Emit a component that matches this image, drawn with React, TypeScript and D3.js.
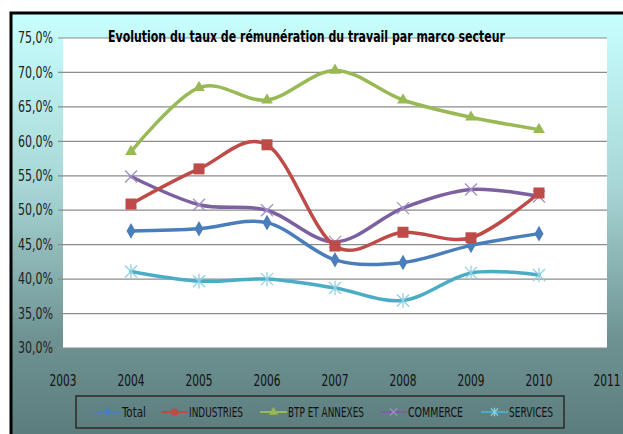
import React, { useEffect, useRef } from 'react';
import * as d3 from 'd3';

const years = [2004, 2005, 2006, 2007, 2008, 2009, 2010];
const xTicks = [2003, 2004, 2005, 2006, 2007, 2008, 2009, 2010, 2011];
const yTicks = [0.30, 0.35, 0.40, 0.45, 0.50, 0.55, 0.60, 0.65, 0.70, 0.75];

const total = [0.470, 0.473, 0.482, 0.428, 0.424, 0.449, 0.466];
const industries = [0.509, 0.560, 0.595, 0.448, 0.468, 0.460, 0.525];
const btp = [0.585, 0.678, 0.660, 0.703, 0.660, 0.635, 0.617];
const commerce = [0.549, 0.508, 0.500, 0.454, 0.503, 0.530, 0.520];
const services = [0.411, 0.397, 0.400, 0.387, 0.369, 0.409, 0.406];

const seriesNames = ['Total', 'INDUSTRIES', 'BTP ET ANNEXES', 'COMMERCE', 'SERVICES'];
const seriesColors = ['#4a7ebb', '#be4b48', '#98b954', '#7d60a0', '#4bacc6'];
const markerColors = ['#4a7ebb', '#be4b48', '#98b954', '#a090c8', '#8fd0e0'];
const markers = ['diamond', 'square', 'triangle', 'x', 'star'];

const title = 'Evolution du taux de rémunération du travail par marco secteur';
const narrow = '"Liberation Sans Narrow", "DejaVu Sans Condensed", "Arial Narrow", sans-serif';

export default function App() {
    const ref = useRef<SVGSVGElement | null>(null);

    useEffect(() => {
        const svg = d3.select(ref.current);
        svg.selectAll('*').remove();
        const width = 623, height = 434;
        const plot = { left: 63, right: 607, top: 38, bottom: 348 };
        const x = d3.scaleLinear().domain([2003, 2011]).range([plot.left, plot.right]);
        const y = d3.scaleLinear().domain([0.30, 0.75]).range([plot.bottom, plot.top]);
        const fmt = (v: number) => d3.format('.1%')(v).replace('.', ',');

        svg.attr('viewBox', `0 0 ${width} ${height}`);

        const defs = svg.append('defs');
        const grad = defs.append('linearGradient').attr('id', 'bg').attr('x1', 0).attr('y1', 0).attr('x2', 0).attr('y2', 1);
        grad.append('stop').attr('offset', '0%').attr('stop-color', '#c8ffff');
        grad.append('stop').attr('offset', '40%').attr('stop-color', '#a8d6d6');
        grad.append('stop').attr('offset', '75%').attr('stop-color', '#6e9292');
        grad.append('stop').attr('offset', '100%').attr('stop-color', '#5a7a7a');

        // frame
        svg.append('rect').attr('x', 0).attr('y', 0).attr('width', width).attr('height', height).attr('fill', '#fff');
        svg.append('rect').attr('x', 11).attr('y', 13).attr('width', width).attr('height', height)
            .attr('fill', 'url(#bg)').attr('stroke', '#000').attr('stroke-width', 3);

        // plot area
        svg.append('rect').attr('x', plot.left).attr('y', plot.top)
            .attr('width', plot.right - plot.left).attr('height', plot.bottom - plot.top).attr('fill', '#fff');

        const grid = svg.append('g');
        grid.selectAll('line').data(yTicks).join('line')
            .attr('x1', plot.left - 5).attr('x2', plot.right)
            .attr('y1', d => y(d)).attr('y2', d => y(d))
            .attr('stroke', '#8c8c8c').attr('stroke-width', 1.2);

        svg.append('g').selectAll('text').data(yTicks).join('text')
            .attr('x', 53).attr('y', d => y(d)).attr('dy', '0.35em')
            .attr('text-anchor', 'end').attr('font-family', narrow).attr('font-size', 15)
            .attr('textLength', 35).attr('lengthAdjust', 'spacingAndGlyphs')
            .attr('fill', '#222').text(d => fmt(d));

        svg.append('g').selectAll('text').data(xTicks).join('text')
            .attr('x', d => x(d)).attr('y', 386)
            .attr('text-anchor', 'middle').attr('font-family', narrow).attr('font-size', 15)
            .attr('textLength', 27).attr('lengthAdjust', 'spacingAndGlyphs')
            .attr('fill', '#111').text(d => String(d));

        svg.append('text').attr('x', 108).attr('y', 42)
            .attr('font-family', narrow).attr('font-size', 16).attr('font-weight', 'bold')
            .attr('textLength', 397).attr('lengthAdjust', 'spacingAndGlyphs')
            .attr('fill', '#000').text(title);

        const line = d3.line<number>()
            .x((d, i) => x(years[i]))
            .y(d => y(d))
            .curve(d3.curveCardinal.tension(0));

        const symbol = (kind: string, g: any, color: string, scale = 1) => {
            if (kind === 'diamond') {
                g.append('path').attr('d', d3.symbol(d3.symbolDiamond, 70 * scale)()).attr('fill', color);
            } else if (kind === 'square') {
                g.append('rect').attr('x', -5.5 * scale).attr('y', -5.5 * scale)
                    .attr('width', 11 * scale).attr('height', 11 * scale).attr('fill', color);
            } else if (kind === 'triangle') {
                g.append('path').attr('d', d3.symbol(d3.symbolTriangle, 60 * scale)()).attr('fill', color);
            } else if (kind === 'x') {
                const r = 6 * scale;
                g.append('path').attr('d', `M${-r},${-r}L${r},${r}M${-r},${r}L${r},${-r}`)
                    .attr('stroke', color).attr('stroke-width', 1.3);
            } else {
                const r = 6 * scale;
                g.append('path').attr('d', `M${-r},${-r}L${r},${r}M${-r},${r}L${r},${-r}M0,${-r * 1.2}L0,${r * 1.2}`)
                    .attr('stroke', color).attr('stroke-width', 1.3);
            }
        };

        const all = [total, industries, btp, commerce, services];
        // draw in order so later series sit on top like the original
        const order = [4, 0, 3, 1, 2];
        order.forEach(si => {
            const vals = all[si];
            svg.append('path').datum(vals)
                .attr('fill', 'none').attr('stroke', seriesColors[si]).attr('stroke-width', 3.5)
                .attr('stroke-linecap', 'round').attr('d', line as any);
            vals.forEach((v, i) => {
                const g = svg.append('g').attr('transform', `translate(${x(years[i])},${y(v)})`);
                symbol(markers[si], g, markerColors[si]);
            });
        });

        // legend
        svg.append('rect').attr('x', 76).attr('y', 396).attr('width', 488).attr('height', 32)
            .attr('fill', 'none').attr('stroke', '#2a2a2a').attr('stroke-width', 1.5);
        const legendX = [94, 161, 260, 380, 481];
        const legendW = [24, 54, 76, 55, 44];
        seriesNames.forEach((name, i) => {
            const lx = legendX[i];
            svg.append('line').attr('x1', lx).attr('x2', lx + 27).attr('y1', 412).attr('y2', 412)
                .attr('stroke', seriesColors[i]).attr('stroke-width', 2);
            const g = svg.append('g').attr('transform', `translate(${lx + 13.5},412)`);
            symbol(markers[i], g, markerColors[i], 0.6);
            svg.append('text').attr('x', lx + 28).attr('y', 412).attr('dy', '0.35em')
                .attr('font-family', narrow).attr('font-size', 14)
                .attr('textLength', legendW[i]).attr('lengthAdjust', 'spacingAndGlyphs')
                .attr('fill', '#111').text(name);
        });
    }, []);

    return <svg ref={ref} width={623} height={434} style={{ position: 'absolute', left: 0, top: 0 }} />;
}
